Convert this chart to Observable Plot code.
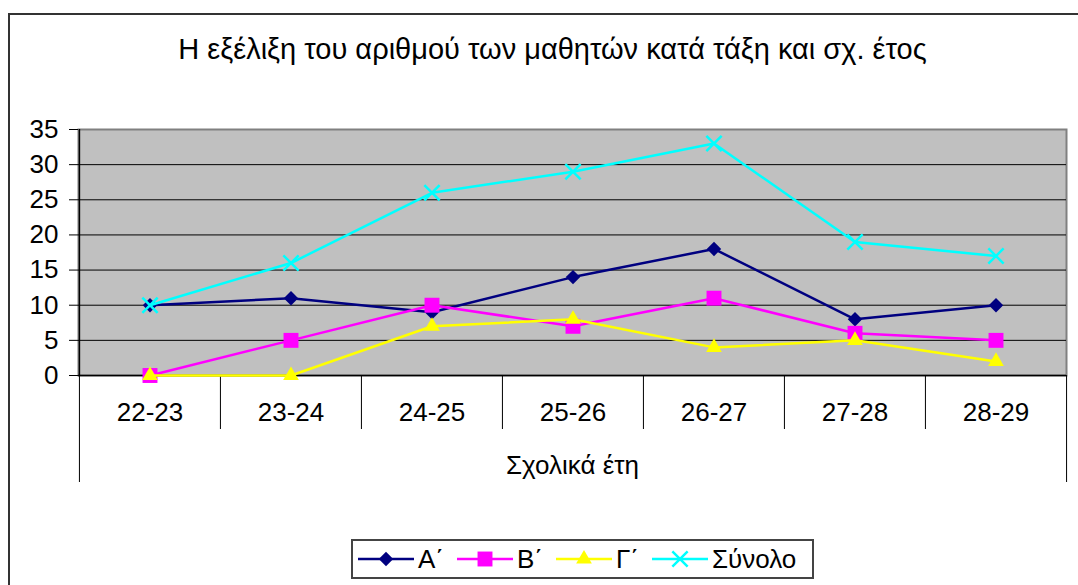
<!DOCTYPE html>
<html><head><meta charset="utf-8">
<script src="https://cdn.jsdelivr.net/npm/d3@7"></script>
<script src="https://cdn.jsdelivr.net/npm/@observablehq/plot@0.6"></script>
<style>
body{margin:0;background:#fff;font-family:"Liberation Sans",Arial,sans-serif;}
#wrap{position:relative;width:1078px;height:585px;overflow:hidden;background:#fff;}
#chart{position:absolute;left:0;top:0;}
#border{position:absolute;left:8px;top:13px;width:1100px;height:600px;border:2px solid #333;box-sizing:border-box;pointer-events:none;}
#title{position:absolute;left:8px;width:1089px;top:35px;text-align:center;font-size:29px;line-height:29px;color:#000;white-space:nowrap;}
#legend{position:absolute;left:351px;top:539px;width:463px;height:40px;box-sizing:border-box;border:2px solid #444;display:flex;align-items:center;padding-left:5px;font-size:26px;background:#fff;}
#legend .item{display:flex;align-items:center;margin-right:13px;}
#legend .item span{margin-left:4px;line-height:26px;}
</style></head><body>
<div id="wrap"><div id="chart"></div><div id="border"></div><div id="title"></div><div id="legend"></div></div>
<script>
const chartTitle = "Η εξέλιξη του αριθμού των μαθητών κατά τάξη και σχ. έτος";
const xLabel = "Σχολικά έτη";
const years = ["22-23", "23-24", "24-25", "25-26", "26-27", "27-28", "28-29"];
const seriesNames = ["Α΄", "Β΄", "Γ΄", "Σύνολο"];
const valuesA = [10, 11, 9, 14, 18, 8, 10];
const valuesB = [0, 5, 10, 7, 11, 6, 5];
const valuesG = [0, 0, 7, 8, 4, 5, 2];
const valuesTotal = [10, 16, 26, 29, 33, 19, 17];
const yTicks = [0, 5, 10, 15, 20, 25, 30, 35];

const seriesValues = [valuesA, valuesB, valuesG, valuesTotal];
const colors = ["#000080", "#FF00FF", "#FFFF00", "#00FFFF"];
const plotSymbols = ["diamond2", "square2", "triangle2", "times"];
const d3Symbols = [d3.symbolDiamond2, d3.symbolSquare2, d3.symbolTriangle2, d3.symbolTimes];
const radii = [6.5, 9.5, 7.5, 7];

const rows = [];
seriesNames.forEach((s, i) => years.forEach((y, j) => rows.push({series: s, year: y, value: seriesValues[i][j]})));

const W = 1078, H = 585, ML = 78, MR = 12, MT = 129, MB = 210;
const bw = (W - ML - MR) / years.length;

const marks = [
  Plot.frame({fill: "#C0C0C0", stroke: "#808080", strokeWidth: 2}),
  Plot.ruleY(yTicks.filter(v => v > 0 && v < 35), {stroke: "#000", strokeWidth: 1}),
  Plot.ruleY([0], {stroke: "#000", strokeWidth: 1.5}),
  Plot.ruleX([years[0]], {x: d => d, dx: -bw / 2, stroke: "#000", strokeWidth: 1.5}),
  Plot.axisY(yTicks, {tickSize: 9, tickPadding: 11, fontSize: 26, label: null}),
  Plot.axisX(years.slice(1), {tickSize: 54, tickFormat: () => "", dx: -bw / 2, label: null}),
  Plot.axisX([years[0]], {tickSize: 107, tickFormat: () => "", dx: -bw / 2, label: null}),
  Plot.axisX([years[years.length - 1]], {tickSize: 107, tickFormat: () => "", dx: bw / 2, label: null}),
  Plot.text(years, {x: d => d, frameAnchor: "bottom", dy: 37, fontSize: 26, lineAnchor: "middle"}),
  Plot.text([xLabel], {frameAnchor: "bottom", dy: 90, fontSize: 26, lineAnchor: "middle"})
];
seriesNames.forEach((s, i) => {
  const data = rows.filter(r => r.series === s);
  marks.push(Plot.line(data, {x: "year", y: "value", stroke: colors[i], strokeWidth: 2.5}));
  if (plotSymbols[i] === "times") {
    marks.push(Plot.dot(data, {x: "year", y: "value", symbol: "times", r: radii[i], stroke: colors[i], strokeWidth: 2.5}));
  } else {
    marks.push(Plot.dot(data, {x: "year", y: "value", symbol: plotSymbols[i], r: radii[i], fill: colors[i], stroke: "none"}));
  }
});

const chart = Plot.plot({
  width: W, height: H,
  marginLeft: ML, marginRight: MR, marginTop: MT, marginBottom: MB,
  style: {fontFamily: "Liberation Sans, Arial, sans-serif", fontSize: "26px", background: "transparent", color: "#000"},
  x: {type: "band", domain: years, padding: 0, label: null},
  y: {domain: [0, 35], label: null},
  marks
});
document.getElementById("chart").appendChild(chart);
document.getElementById("title").textContent = chartTitle;

const legend = d3.select("#legend");
seriesNames.forEach((s, i) => {
  const item = legend.append("div").attr("class", "item");
  const svg = item.append("svg").attr("width", 56).attr("height", 24);
  svg.append("line").attr("x1", 0).attr("x2", 56).attr("y1", 12).attr("y2", 12)
    .attr("stroke", colors[i]).attr("stroke-width", 2.5);
  const path = svg.append("path").attr("transform", "translate(28,12)")
    .attr("d", d3.symbol(d3Symbols[i], Math.PI * radii[i] * radii[i])());
  if (plotSymbols[i] === "times") path.attr("fill", "none").attr("stroke", colors[i]).attr("stroke-width", 2.5);
  else path.attr("fill", colors[i]);
  item.append("span").text(s);
});
</script>
</body></html>
